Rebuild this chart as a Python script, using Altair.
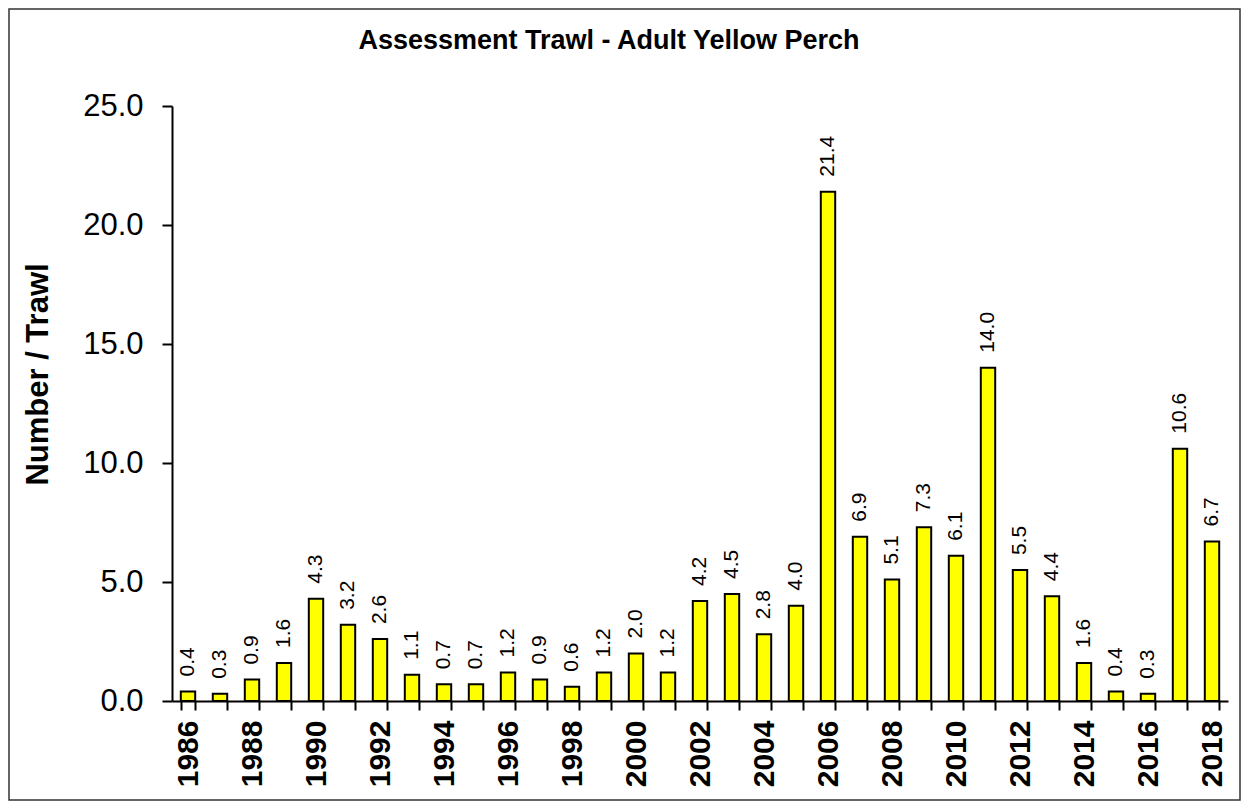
import altair as alt
import pandas as pd

TITLE = "Assessment Trawl - Adult Yellow Perch"
Y_TITLE = "Number / Trawl"
years = list(range(1986, 2019))
values = [0.4, 0.3, 0.9, 1.6, 4.3, 3.2, 2.6, 1.1, 0.7, 0.7, 1.2, 0.9, 0.6, 1.2,
          2.0, 1.2, 4.2, 4.5, 2.8, 4.0, 21.4, 6.9, 5.1, 7.3, 6.1, 14.0, 5.5, 4.4,
          1.6, 0.4, 0.3, 10.6, 6.7]
y_ticks = [0, 5, 10, 15, 20, 25]

df = pd.DataFrame({"year": years, "value": values})
FONT = "Liberation Sans"

W, H = 1056, 595

x_enc = alt.X(
    "year:O",
    scale=alt.Scale(paddingInner=0.55, paddingOuter=0.275),
    axis=alt.Axis(
        title=None,
        labelExpr="datum.value % 2 == 0 ? datum.label : ''",
        labelAngle=-90,
        labelFontSize=30,
        labelFontWeight="bold",
        labelFont=FONT,
        labelColor="black",
        labelOverlap=False,
        labelPadding=10,
        tickBand="extent",
        tickSize=9,
        tickWidth=2,
        tickColor="black",
        domainWidth=2,
        domainColor="black",
        grid=False,
    ),
)
y_enc = alt.Y(
    "value:Q",
    scale=alt.Scale(domain=[0, 25], nice=False),
    axis=alt.Axis(
        title=Y_TITLE,
        titleFont=FONT,
        titleFontSize=31,
        titleFontWeight="bold",
        titleColor="black",
        titleX=-134,
        titleY=268,
        titleAngle=270,
        titleAlign="center",
        titleBaseline="middle",
        values=y_ticks,
        format=".1f",
        labelFont=FONT,
        labelFontSize=31,
        labelColor="black",
        labelPadding=19,
        tickSize=10,
        tickWidth=2,
        tickColor="black",
        domainWidth=2,
        domainColor="black",
        grid=False,
    ),
)

base = alt.Chart(df)
bars = base.mark_bar(fill="#FFFF00", stroke="black", strokeWidth=2).encode(x=x_enc, y=y_enc)
labels = base.mark_text(
    angle=270, align="left", baseline="middle", dx=15, fontSize=21, font=FONT, color="black"
).encode(x="year:O", y="value:Q", text=alt.Text("value:Q", format=".1f"))

title = alt.Chart(alt.Data(values=[{"t": TITLE}])).mark_text(
    fontSize=27, fontWeight="bold", font=FONT, align="center", baseline="alphabetic", color="black"
).encode(text="t:N", x=alt.value(437), y=alt.value(-57))

border = alt.Chart(alt.Data(values=[{"b": 1}])).mark_rect(
    fillOpacity=0, stroke="#333333", strokeWidth=1.5
).encode(x=alt.value(-163), x2=alt.value(1068), y=alt.value(-97), y2=alt.value(694))

chart = alt.layer(bars, labels, title, border).properties(
    width=W, height=H,
    autosize=alt.AutoSizeParams(type="none"),
    padding={"left": 164, "top": 98, "right": 13, "bottom": 100},
    background="white",
).configure_view(stroke=None)

chart.save("out.html", embed_options={"renderer": "svg", "actions": False})
